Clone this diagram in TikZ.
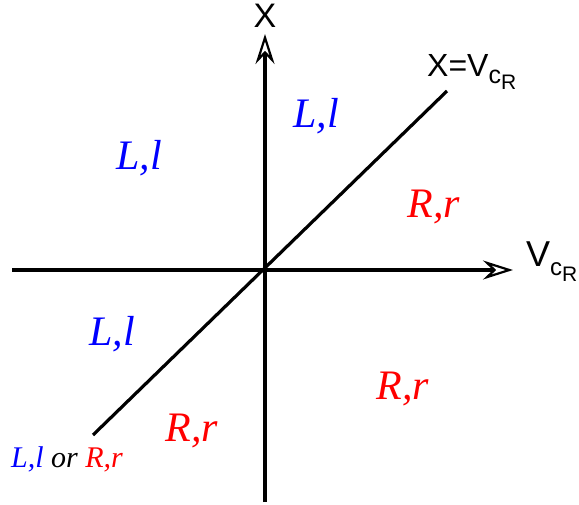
\documentclass[tikz,border=0pt]{standalone}
\usepackage{fontspec}
\setmainfont{Liberation Serif}
\newfontfamily\axisfont{Liberation Sans}
\usetikzlibrary{arrows.meta}
\begin{document}
\begin{tikzpicture}[x=1pt,y=-1pt,
  axis/.style={line width=3.2pt,-{Stealth[open,length=30pt,width=19pt,line width=2.2pt,inset=10pt]}},
  diag/.style={line width=3.2pt},
  lreg/.style={text=blue,font=\fontsize{42}{44}\selectfont\itshape,inner sep=0pt},
  rreg/.style={text=red,font=\fontsize{42}{44}\selectfont\itshape,inner sep=0pt},
  alab/.style={font=\axisfont,inner sep=0pt}]
\useasboundingbox (0,0) rectangle (579,505);
\coordinate (o) at (265,270);
\coordinate (xb) at (265,502);
\coordinate (xt) at (265,34);
\coordinate (vl) at (12,270);
\coordinate (vr) at (513,270);
\coordinate (d1) at (93,435);
\coordinate (d2) at (447,91);
\draw[axis] (xb) -- (xt);
\draw[axis] (vl) -- (vr);
\draw[diag] (d1) -- (d2);
\node[alab,font=\axisfont\fontsize{34}{36}\selectfont] (X) at (265,16) {X};
\node[alab,font=\axisfont\fontsize{36}{38}\selectfont,anchor=west] (V) at (526,262) {V\raisebox{-9pt}{\fontsize{24}{26}\selectfont c\raisebox{-6pt}{\fontsize{21}{23}\selectfont R}}};
\node[alab,font=\axisfont\fontsize{32}{34}\selectfont,anchor=west] (XV) at (427,72) {X=V\raisebox{-7pt}{\fontsize{25}{27}\selectfont c\raisebox{-6pt}{\fontsize{21}{23}\selectfont R}}};
\node[lreg] (l1) at (139,158) {L,l};
\node[lreg] (l2) at (316,116) {L,l};
\node[lreg] (l3) at (112,334) {L,l};
\node[rreg] (r1) at (434,207) {R,r};
\node[rreg] (r2) at (403,389) {R,r};
\node[rreg] (r3) at (192,431) {R,r};
\node[inner sep=0pt,anchor=west,font=\fontsize{30}{32}\selectfont\itshape] (lr) at (11,459) {\textcolor{blue}{L,l} or \textcolor{red}{R,r}};
\end{tikzpicture}
\end{document}
